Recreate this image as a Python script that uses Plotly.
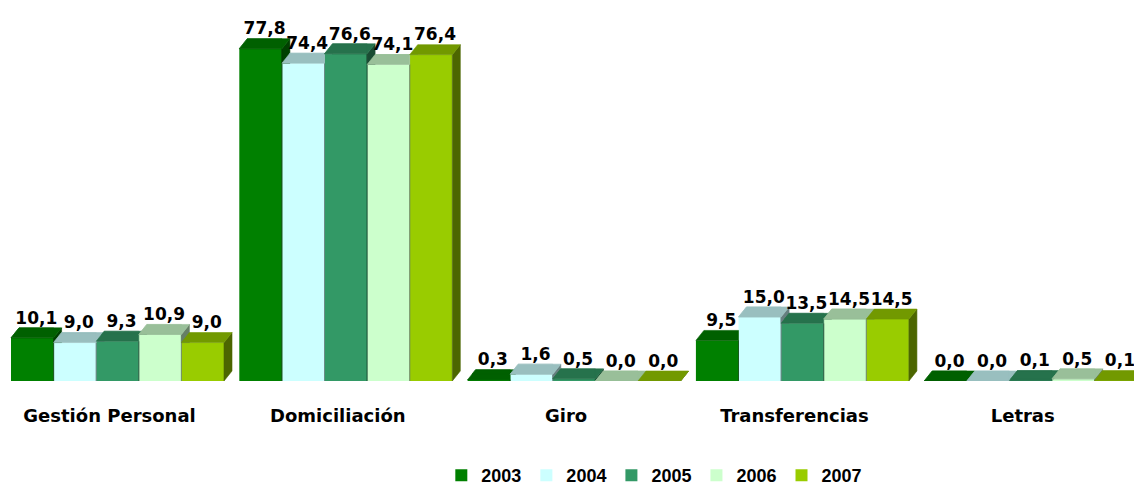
import plotly.graph_objects as go

# Categories and yearly series (percentages)
categories = ["Gestión Personal", "Domiciliación", "Giro", "Transferencias", "Letras"]
years = ["2003", "2004", "2005", "2006", "2007"]
v2003 = [10.1, 77.8, 0.3, 9.5, 0.0]
v2004 = [9.0, 74.4, 1.6, 15.0, 0.0]
v2005 = [9.3, 76.6, 0.5, 13.5, 0.1]
v2006 = [10.9, 74.1, 0.0, 14.5, 0.5]
v2007 = [9.0, 76.4, 0.0, 14.5, 0.1]
series = [v2003, v2004, v2005, v2006, v2007]

front_colors = ["#008000", "#CCFFFF", "#339966", "#CCFFCC", "#99CC00"]

FONT = "DejaVu Sans"
LEGEND_FONT = "Liberation Sans"
BAR_W = 0.1866      # bar width in category units
DX = 0.035          # depth offset (x, category units)
DY = 2.34           # depth offset (y, value units)
LABEL_SHIFT = 0.035 # category label offset to the left of the group centre


def shade(hex_color, f):
    h = hex_color.lstrip("#")
    r, g, b = (int(h[i:i + 2], 16) for i in (0, 2, 4))
    return "#{:02X}{:02X}{:02X}".format(int(r * f), int(g * f), int(b * f))


def clip(poly, axis, bound, keep_ge):
    """Clip a convex polygon with a half-plane (Sutherland-Hodgman)."""
    def inside(p):
        return p[axis] >= bound if keep_ge else p[axis] <= bound

    def cross(p, q):
        t = (bound - p[axis]) / (q[axis] - p[axis])
        return (p[0] + t * (q[0] - p[0]), p[1] + t * (q[1] - p[1]))

    out = []
    n = len(poly)
    for j in range(n):
        cur, nxt = poly[j], poly[(j + 1) % n]
        if inside(cur):
            out.append(cur)
            if not inside(nxt):
                out.append(cross(cur, nxt))
        elif inside(nxt):
            out.append(cross(cur, nxt))
    return out if len(out) >= 3 else None


def poly_trace(polys, color):
    xs, ys = [], []
    for p in polys:
        xs += [pt[0] for pt in p] + [p[0][0], None]
        ys += [pt[1] for pt in p] + [p[0][1], None]
    return go.Scatter(x=xs, y=ys, mode="lines", fill="toself", fillcolor=color,
                      line=dict(color=color, width=0.6), hoverinfo="skip",
                      showlegend=False)


fig = go.Figure()

# front faces of the bars
for k, (name, vals) in enumerate(zip(years, series)):
    xs = [i + (k - 2) * BAR_W for i in range(len(categories))]
    fig.add_trace(go.Bar(x=xs, y=vals, width=BAR_W, name=name,
                         marker=dict(color=front_colors[k], line=dict(width=0)),
                         hoverinfo="skip"))

# top and side faces, painted from the back bar to the front bar
for k, vals in enumerate(series):
    tops, sides = [], []
    for i, h in enumerate(vals):
        c = i + (k - 2) * BAR_W
        xl, xr = c - BAR_W / 2, c + BAR_W / 2
        top = [(xl, h), (xr, h), (xr + DX, h + DY), (xl + DX, h + DY)]
        side = [(xr, 0), (xr + DX, DY), (xr + DX, h + DY), (xr, h)]
        for face, bucket in ((side, sides), (top, tops)):
            if k == len(series) - 1:
                bucket.append(face)
                continue
            nxt = series[k + 1][i]
            for piece in (clip(face, 0, xr, False), clip(face, 1, nxt, True)):
                if piece:
                    bucket.append(piece)
    fig.add_trace(poly_trace(sides, shade(front_colors[k], 0.5)))
    fig.add_trace(poly_trace(tops, shade(front_colors[k], 0.75)))

# value labels
for k, vals in enumerate(series):
    xs = [i + (k - 2) * BAR_W + DX / 2 for i in range(len(categories))]
    fig.add_trace(go.Scatter(
        x=xs, y=[v + DY for v in vals], customdata=vals, mode="text",
        texttemplate="%{customdata:.1f}", textposition="top center",
        textfont=dict(family=FONT, size=17, color="#000000", weight="bold"),
        hoverinfo="skip", showlegend=False, cliponaxis=False))

fig.update_layout(
    width=1134, height=494,
    margin=dict(l=0, r=0, t=0, b=113),
    paper_bgcolor="#FFFFFF", plot_bgcolor="#FFFFFF",
    barmode="overlay",
    separators=",.",
    showlegend=True,
    legend=dict(orientation="h", xref="container", yref="container",
                x=0.577, xanchor="center", y=0, yanchor="bottom",
                font=dict(family=LEGEND_FONT, size=18, color="#000000", weight="bold"),
                traceorder="normal", bgcolor="rgba(0,0,0,0)"),
    xaxis=dict(range=[-0.5147, 4.4524], showgrid=False, zeroline=False, showline=False,
               automargin=False,
               tickvals=[i - LABEL_SHIFT for i in range(len(categories))],
               ticktext=categories, ticks="", ticklabelstandoff=22,
               tickfont=dict(family=FONT, size=18, color="#000000", weight="bold")),
    yaxis=dict(range=[0, 89.2], visible=False, showgrid=False, zeroline=False,
               automargin=False),
)

fig.write_html("out.html")
